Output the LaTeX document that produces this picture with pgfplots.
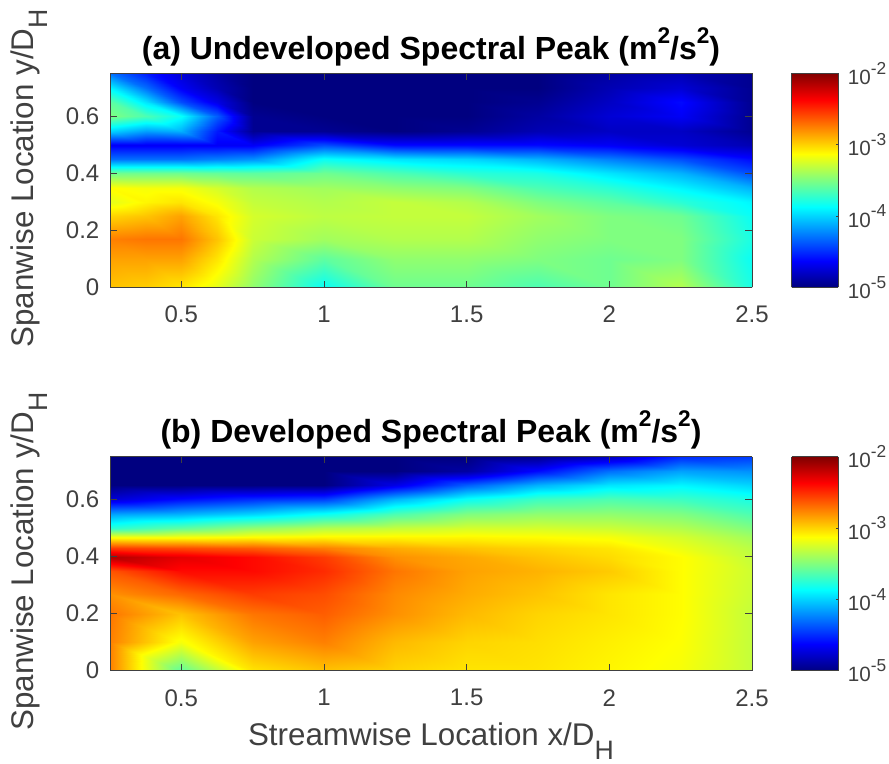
\documentclass[border=0pt]{standalone}
\usepackage{fontspec}
\setmainfont{Liberation Sans}
\usepackage{pgfplots}
\usepackage{pgfplotstable}
\pgfplotsset{compat=1.18}
\definecolor{axgray}{gray}{0.25}
\newcommand{\tickf}{\fontsize{18}{20}\selectfont}
\newcommand{\cbf}{\fontsize{15.5}{17}\selectfont}
\newcommand{\labf}{\fontsize{23.5}{26}\selectfont}
\newcommand{\titf}{\fontsize{24}{26}\selectfont\bfseries}
\newcommand{\subH}{\raisebox{-0.45em}{\fontsize{20}{22}\selectfont H}}
\newcommand{\supr}[1]{\raisebox{0.5em}{\fontsize{17}{18}\selectfont #1}}
\newcommand{\supc}[1]{\raisebox{0.5em}{\fontsize{13}{14}\selectfont #1}}
\pgfplotstableread{
x y z
0.25 0 -2.95
0.375 0 -2.98
0.5 0 -3.05
0.625 0 -3.2
0.75 0 -3.45
1 0 -3.85
1.25 0 -3.55
1.5 0 -3.55
1.75 0 -3.65
2 0 -3.55
2.25 0 -3.35
2.5 0 -3.8
0.25 0.1 -2.85
0.375 0.1 -2.85
0.5 0.1 -2.85
0.625 0.1 -3.05
0.75 0.1 -3.35
1 0.1 -3.6
1.25 0.1 -3.45
1.5 0.1 -3.45
1.75 0.1 -3.5
2 0.1 -3.55
2.25 0.1 -3.5
2.5 0.1 -3.85
0.25 0.17 -2.75
0.375 0.17 -2.72
0.5 0.17 -2.72
0.625 0.17 -2.95
0.75 0.17 -3.28
1 0.17 -3.4
1.25 0.17 -3.35
1.5 0.17 -3.35
1.75 0.17 -3.45
2 0.17 -3.5
2.25 0.17 -3.5
2.5 0.17 -3.8
0.25 0.25 -3.0
0.375 0.25 -2.95
0.5 0.25 -2.85
0.625 0.25 -3.05
0.75 0.25 -3.25
1 0.25 -3.32
1.25 0.25 -3.3
1.5 0.25 -3.3
1.75 0.25 -3.4
2 0.25 -3.5
2.25 0.25 -3.55
2.5 0.25 -3.85
0.25 0.3 -3.2
0.375 0.3 -3.1
0.5 0.3 -3.05
0.625 0.3 -3.15
0.75 0.3 -3.3
1 0.3 -3.35
1.25 0.3 -3.3
1.5 0.3 -3.35
1.75 0.3 -3.5
2 0.3 -3.6
2.25 0.3 -3.75
2.5 0.3 -3.9
0.25 0.35 -3.12
0.375 0.35 -3.15
0.5 0.35 -3.15
0.625 0.35 -3.25
0.75 0.35 -3.35
1 0.35 -3.4
1.25 0.35 -3.45
1.5 0.35 -3.5
1.75 0.35 -3.65
2 0.35 -3.75
2.25 0.35 -3.9
2.5 0.35 -4.1
0.25 0.4 -3.55
0.375 0.4 -3.55
0.5 0.4 -3.55
0.625 0.4 -3.58
0.75 0.4 -3.6
1 0.4 -3.55
1.25 0.4 -3.65
1.5 0.4 -3.75
1.75 0.4 -3.8
2 0.4 -3.95
2.25 0.4 -4.1
2.5 0.4 -4.4
0.25 0.45 -4.3
0.375 0.45 -4.3
0.5 0.45 -4.3
0.625 0.45 -4.25
0.75 0.45 -4.2
1 0.45 -3.85
1.25 0.45 -3.95
1.5 0.45 -4.0
1.75 0.45 -4.1
2 0.45 -4.25
2.25 0.45 -4.4
2.5 0.45 -4.6
0.25 0.5 -4.65
0.375 0.5 -4.65
0.5 0.5 -4.65
0.625 0.5 -4.65
0.75 0.5 -4.65
1 0.5 -4.4
1.25 0.5 -4.6
1.5 0.5 -4.6
1.75 0.5 -4.6
2 0.5 -4.65
2.25 0.5 -4.75
2.5 0.5 -4.85
0.25 0.55 -4.0
0.375 0.55 -4.15
0.5 0.55 -4.1
0.625 0.55 -4.55
0.75 0.55 -4.95
1 0.55 -4.95
1.25 0.55 -5
1.5 0.55 -4.95
1.75 0.55 -4.85
2 0.55 -4.8
2.25 0.55 -4.8
2.5 0.55 -4.95
0.25 0.6 -3.5
0.375 0.6 -3.65
0.5 0.6 -3.85
0.625 0.6 -4.35
0.75 0.6 -4.95
1 0.6 -5
1.25 0.6 -5
1.5 0.6 -5
1.75 0.6 -4.9
2 0.6 -4.75
2.25 0.6 -4.65
2.5 0.6 -4.95
0.25 0.65 -3.6
0.375 0.65 -3.95
0.5 0.65 -4.4
0.625 0.65 -4.7
0.75 0.65 -5
1 0.65 -5
1.25 0.65 -5
1.5 0.65 -5
1.75 0.65 -4.95
2 0.65 -4.8
2.25 0.65 -4.6
2.5 0.65 -4.95
0.25 0.7 -3.9
0.375 0.7 -4.3
0.5 0.7 -4.65
0.625 0.7 -4.85
0.75 0.7 -5
1 0.7 -5
1.25 0.7 -5
1.5 0.7 -5
1.75 0.7 -5
2 0.7 -4.85
2.25 0.7 -4.75
2.5 0.7 -4.95
0.25 0.75 -4.3
0.375 0.75 -4.55
0.5 0.75 -4.75
0.625 0.75 -4.9
0.75 0.75 -5
1 0.75 -5
1.25 0.75 -5
1.5 0.75 -5
1.75 0.75 -5
2 0.75 -4.9
2.25 0.75 -4.85
2.5 0.75 -4.95
}\tablea
\pgfplotstableread{
x y z
0.25 0 -2.75
0.5 0 -3.6
0.75 0 -3.05
1 0 -2.95
1.25 0 -3.0
1.5 0 -3.05
1.75 0 -3.05
2 0 -3.1
2.25 0 -3.15
2.5 0 -3.3
0.25 0.1 -2.75
0.5 0.1 -3.15
0.75 0.1 -2.85
1 0.1 -2.75
1.25 0.1 -2.92
1.5 0.1 -3.0
1.75 0.1 -3.03
2 0.1 -3.08
2.25 0.1 -3.13
2.5 0.1 -3.3
0.25 0.2 -2.72
0.5 0.2 -2.95
0.75 0.2 -2.72
1 0.2 -2.65
1.25 0.2 -2.8
1.5 0.2 -2.92
1.75 0.2 -3.0
2 0.2 -3.05
2.25 0.2 -3.12
2.5 0.2 -3.3
0.25 0.27 -2.8
0.5 0.27 -2.68
0.75 0.27 -2.55
1 0.27 -2.6
1.25 0.27 -2.78
1.5 0.27 -2.88
1.75 0.27 -2.95
2 0.27 -3.05
2.25 0.27 -3.12
2.5 0.27 -3.28
0.25 0.35 -2.62
0.5 0.35 -2.4
0.75 0.35 -2.4
1 0.35 -2.5
1.25 0.35 -2.72
1.5 0.35 -2.85
1.75 0.35 -2.9
2 0.35 -2.97
2.25 0.35 -3.12
2.5 0.35 -3.27
0.25 0.4 -2.15
0.5 0.4 -2.3
0.75 0.4 -2.4
1 0.4 -2.55
1.25 0.4 -2.8
1.5 0.4 -2.87
1.75 0.4 -2.95
2 0.4 -3.02
2.25 0.4 -3.12
2.5 0.4 -3.3
0.25 0.43 -2.55
0.5 0.43 -2.6
0.75 0.43 -2.65
1 0.43 -2.75
1.25 0.43 -2.88
1.5 0.43 -2.95
1.75 0.43 -3.0
2 0.43 -3.05
2.25 0.43 -3.18
2.5 0.43 -3.33
0.25 0.47 -3.15
0.5 0.47 -3.15
0.75 0.47 -3.12
1 0.47 -3.1
1.25 0.47 -3.1
1.5 0.47 -3.1
1.75 0.47 -3.12
2 0.47 -3.15
2.25 0.47 -3.25
2.5 0.47 -3.4
0.25 0.5 -3.75
0.5 0.5 -3.6
0.75 0.5 -3.45
1 0.5 -3.35
1.25 0.5 -3.3
1.5 0.5 -3.25
1.75 0.5 -3.25
2 0.5 -3.28
2.25 0.5 -3.35
2.5 0.5 -3.5
0.25 0.55 -4.15
0.5 0.55 -4.1
0.75 0.55 -4.0
1 0.55 -3.85
1.25 0.55 -3.65
1.5 0.55 -3.5
1.75 0.55 -3.45
2 0.55 -3.45
2.25 0.55 -3.5
2.5 0.55 -3.65
0.25 0.6 -4.75
0.5 0.6 -4.6
0.75 0.6 -4.5
1 0.6 -4.45
1.25 0.6 -4.1
1.5 0.6 -3.85
1.75 0.6 -3.7
2 0.6 -3.65
2.25 0.6 -3.7
2.5 0.6 -3.8
0.25 0.65 -5
0.5 0.65 -5
0.75 0.65 -5
1 0.65 -5
1.25 0.65 -4.7
1.5 0.65 -4.35
1.75 0.65 -4.1
2 0.65 -3.95
2.25 0.65 -3.9
2.5 0.65 -4.0
0.25 0.7 -5
0.5 0.7 -5
0.75 0.7 -5
1 0.7 -5
1.25 0.7 -5
1.5 0.7 -4.9
1.75 0.7 -4.6
2 0.7 -4.3
2.25 0.7 -4.15
2.5 0.7 -4.2
0.25 0.75 -5
0.5 0.75 -5
0.75 0.75 -5
1 0.75 -5
1.25 0.75 -5
1.5 0.75 -5
1.75 0.75 -4.95
2 0.75 -4.8
2.25 0.75 -4.5
2.5 0.75 -4.45
}\tableb
\pgfplotstableread{
x y z
0 -5 -5
1 -5 -5
0 -4.625 -4.625
1 -4.625 -4.625
0 -4.25 -4.25
1 -4.25 -4.25
0 -3.875 -3.875
1 -3.875 -3.875
0 -3.5 -3.5
1 -3.5 -3.5
0 -3.125 -3.125
1 -3.125 -3.125
0 -2.75 -2.75
1 -2.75 -2.75
0 -2.375 -2.375
1 -2.375 -2.375
0 -2 -2
1 -2 -2
}\tablecb
\pgfplotsset{
  panel/.style={
    view={0}{90},
    scale only axis,
    width=481.5pt, height=160.5pt,
    xmin=0.25, xmax=2.5, ymin=0, ymax=0.75,
    axis on top,
    tick align=inside,
    tick style={color=axgray, line width=0.5pt},
    major tick length=5pt,
    axis line style={color=axgray, line width=0.5pt},
    xtick={0.5,1,1.5,2,2.5},
    xticklabels={0.5,1,1.5,2,2.5},
    ytick={0,0.2,0.4,0.6},
    yticklabels={0,0.2,0.4,0.6},
    xticklabel style={font=\tickf, text=axgray, yshift=-10.5pt},
    yticklabel style={font=\tickf, text=axgray, xshift=-4.5pt},
    colormap/jet,
    point meta min=-5, point meta max=-2,
    ylabel style={font=\labf, text=axgray, at={(rel axis cs:-0.126,0.51)}, anchor=center, rotate=0},
  },
  cbar/.style={
    view={0}{90},
    scale only axis,
    width=35pt, height=160.5pt,
    xmin=0, xmax=1, ymin=-5, ymax=-2,
    axis on top,
    colormap/jet,
    point meta min=-5, point meta max=-2,
    xtick=\empty,
    ytick={-5,-4,-3,-2},
    yticklabels={10\supc{-5},10\supc{-4},10\supc{-3},10\supc{-2}},
    yticklabel pos=right,
    ytick pos=right,
    yticklabel style={font=\cbf, text=axgray, xshift=3.5pt},
    tick align=inside,
    major tick length=2pt,
    tick style={color=axgray, line width=0.5pt},
    axis line style={color=axgray, line width=0.5pt},
  },
}
\begin{document}
\begin{tikzpicture}[x=1pt,y=1pt]
\path[use as bounding box] (0,0) rectangle (666.75,573);
\begin{axis}[panel, at={(82.5pt,357.4pt)}, anchor=south west,
  ylabel={Spanwise Location y/D\subH},
  title={(a) Undeveloped Spectral Peak (m\supr{2}/s\supr{2})},
  title style={font=\titf, at={(0.5,1)}, anchor=south, yshift=-4pt}]
\addplot3[surf, shader=interp, mesh/rows=14, mesh/cols=12] table[x=x,y=y,z=z] {\tablea};
\end{axis}
\begin{axis}[cbar, at={(593.8pt,357.4pt)}, anchor=south west]
\addplot3[surf, shader=interp, mesh/rows=9, mesh/cols=2] table[x=x,y=y,z=z] {\tablecb};
\end{axis}
\begin{axis}[panel, at={(82.5pt,70pt)}, anchor=south west,
  ylabel={Spanwise Location y/D\subH},
  xlabel={Streamwise Location x/D\subH},
  xlabel style={font=\labf, text=axgray, at={(0.5,-0.33)}, anchor=center},
  title={(b) Developed Spectral Peak (m\supr{2}/s\supr{2})},
  title style={font=\titf, at={(0.5,1)}, anchor=south, yshift=-4pt}]
\addplot3[surf, shader=interp, mesh/rows=14, mesh/cols=10] table[x=x,y=y,z=z] {\tableb};
\end{axis}
\begin{axis}[cbar, at={(593.8pt,70pt)}, anchor=south west]
\addplot3[surf, shader=interp, mesh/rows=9, mesh/cols=2] table[x=x,y=y,z=z] {\tablecb};
\end{axis}
\end{tikzpicture}
\end{document}
